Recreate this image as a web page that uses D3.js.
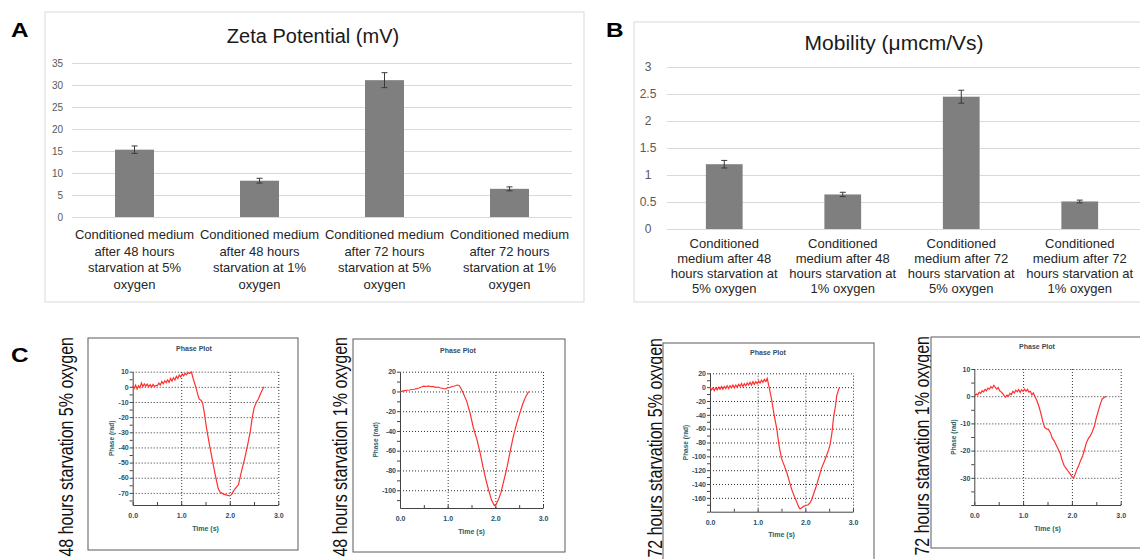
<!DOCTYPE html>
<html>
<head>
<meta charset="utf-8">
<script src="https://cdn.jsdelivr.net/npm/d3@7"></script>
<style>
  body { margin: 0; background: #fff; }
  svg { display: block; font-family: "Liberation Sans", Arial, sans-serif; }
</style>
</head>
<body>
<div id="figure"></div>
<script>

// Panel A - zeta potential
var zetaCategories = [
  ["Conditioned medium", "after 48 hours", "starvation at 5%", "oxygen"],
  ["Conditioned medium", "after 48 hours", "starvation at 1%", "oxygen"],
  ["Conditioned medium", "after 72 hours", "starvation at 5%", "oxygen"],
  ["Conditioned medium", "after 72 hours", "starvation at 1%", "oxygen"]
];
var zetaValues = [15.3, 8.25, 31.1, 6.4];
var zetaErrors = [0.85, 0.55, 1.7, 0.45];
var zetaTicks = [0, 5, 10, 15, 20, 25, 30, 35];

// Panel B - mobility
var mobilityCategories = [
  ["Conditioned", "medium after 48", "hours starvation at", "5% oxygen"],
  ["Conditioned", "medium after 48", "hours starvation at", "1% oxygen"],
  ["Conditioned", "medium after 72", "hours starvation at", "5% oxygen"],
  ["Conditioned", "medium after 72", "hours starvation at", "1% oxygen"]
];
var mobilityValues = [1.2, 0.64, 2.45, 0.51];
var mobilityErrors = [0.07, 0.04, 0.12, 0.025];
var mobilityTicks = [0, 0.5, 1, 1.5, 2, 2.5, 3];

// Panel C - phase plots, [time (s), phase (rad)]
var phase48h5 = [[0.00, 0.5], [0.03, -1.0], [0.06, 1.2], [0.09, -1.5], [0.12, 0.8], [0.15, -0.5], [0.18, 2.5],
  [0.21, 0.2], [0.24, 2.0], [0.27, 0.5], [0.30, 1.8], [0.33, 0.0], [0.36, 1.5], [0.39, -0.2], [0.42, 1.6],
  [0.45, 0.3], [0.48, 1.0], [0.51, 0.8], [0.54, 2.5], [0.57, 1.2], [0.60, 3.5], [0.63, 2.0], [0.66, 4.0],
  [0.69, 2.8], [0.72, 4.5], [0.75, 3.0], [0.78, 5.5], [0.81, 3.8], [0.84, 6.0], [0.87, 4.5], [0.90, 7.0],
  [0.93, 5.5], [0.96, 7.8], [0.99, 6.5], [1.02, 8.5], [1.05, 7.2], [1.08, 9.0], [1.11, 8.0], [1.14, 9.5],
  [1.17, 8.8], [1.21, 9.8], [1.25, 5], [1.30, 0], [1.34, -5], [1.37, -8], [1.41, -9], [1.44, -10.5],
  [1.48, -18], [1.52, -27], [1.58, -38], [1.64, -48], [1.70, -58], [1.76, -67], [1.80, -69.5], [1.87, -70.8],
  [1.94, -71.5], [2.00, -72], [2.04, -71], [2.08, -68.5], [2.13, -66.5], [2.18, -64.5], [2.24, -56],
  [2.31, -47], [2.37, -38], [2.42, -30], [2.46, -21], [2.50, -14], [2.55, -10], [2.59, -8], [2.64, -4], [2.70, 0]];

var phase48h1 = [[0.00, -0.5], [0.05, 0.3], [0.10, 0.8], [0.15, 1.2], [0.20, 1.5], [0.25, 2.0], [0.30, 2.2],
  [0.35, 2.8], [0.40, 3.5], [0.45, 4.5], [0.50, 5.3], [0.55, 5.0], [0.60, 5.6], [0.65, 4.8], [0.70, 4.9],
  [0.75, 4.2], [0.80, 4.5], [0.85, 3.5], [0.90, 3.0], [0.95, 2.5], [1.00, 3.8], [1.05, 4.2], [1.10, 5.0],
  [1.15, 5.5], [1.20, 6.5], [1.24, 6.0], [1.28, 3], [1.33, -2], [1.40, -10], [1.47, -22], [1.54, -37],
  [1.61, -48], [1.68, -62], [1.74, -76], [1.80, -89], [1.86, -100], [1.92, -110], [1.98, -115.5],
  [2.02, -114], [2.07, -109], [2.12, -102], [2.18, -90], [2.24, -78], [2.31, -61], [2.38, -45],
  [2.45, -32], [2.52, -21], [2.58, -12], [2.64, -5], [2.70, 0]];

var phase72h5 = [[0.00, 0], [0.03, -4], [0.06, -1], [0.09, -5], [0.12, -1], [0.15, -4], [0.18, 0], [0.21, -3],
  [0.24, 1], [0.27, -3], [0.30, 1], [0.33, -2], [0.36, 2], [0.39, -2], [0.42, 2], [0.45, -1], [0.48, 3],
  [0.51, -1], [0.54, 3], [0.57, 0], [0.60, 4], [0.63, 1], [0.66, 5], [0.69, 1], [0.72, 5], [0.75, 2],
  [0.78, 6], [0.81, 3], [0.84, 7], [0.87, 3], [0.90, 8], [0.93, 4], [0.96, 8], [0.99, 5], [1.02, 9],
  [1.05, 6], [1.08, 10], [1.11, 7], [1.14, 11], [1.17, 8], [1.20, 12.5], [1.24, 0], [1.29, -17],
  [1.34, -38], [1.40, -60], [1.45, -85], [1.50, -103], [1.55, -112], [1.61, -123], [1.66, -135],
  [1.71, -147], [1.77, -158], [1.82, -166], [1.86, -173], [1.89, -176], [1.93, -174], [1.97, -172],
  [2.02, -171], [2.06, -170], [2.10, -167], [2.13, -163], [2.18, -153], [2.24, -141], [2.29, -129],
  [2.34, -117], [2.40, -107], [2.45, -98], [2.49, -90], [2.52, -83], [2.56, -65], [2.59, -45],
  [2.63, -28], [2.66, -12], [2.71, -1]];

var phase72h1 = [[0.00, 0.0], [0.04, 0.8], [0.07, 0.5], [0.10, 1.5], [0.13, 1.0], [0.16, 2.0], [0.19, 1.6],
  [0.22, 2.5], [0.25, 2.0], [0.28, 3.0], [0.31, 2.6], [0.34, 3.5], [0.37, 3.0], [0.40, 4.0], [0.43, 3.2],
  [0.46, 2.6], [0.49, 3.2], [0.52, 2.0], [0.55, 1.6], [0.58, 1.0], [0.61, 0.2], [0.64, -0.3], [0.67, 0.4],
  [0.70, 0.0], [0.73, 1.0], [0.76, 0.6], [0.79, 1.8], [0.82, 1.2], [0.85, 2.2], [0.88, 1.6], [0.91, 2.5],
  [0.94, 1.4], [0.97, 2.4], [1.00, 1.8], [1.03, 2.6], [1.06, 1.8], [1.09, 2.5], [1.12, 1.5], [1.15, 1.8],
  [1.18, 0.5], [1.21, 1.2], [1.24, 0.0], [1.28, -1.5], [1.32, -3.5], [1.36, -6], [1.40, -9], [1.44, -11.5],
  [1.48, -12.0], [1.52, -12.2], [1.56, -13.5], [1.60, -15.5], [1.64, -16.5], [1.68, -18], [1.72, -19.5],
  [1.76, -21], [1.80, -23.5], [1.84, -25.5], [1.88, -26.5], [1.92, -27.5], [1.96, -28.5], [2.00, -29.5],
  [2.03, -30.2], [2.06, -29], [2.10, -27], [2.14, -25.5], [2.18, -23.5], [2.22, -22], [2.26, -19.5],
  [2.30, -17], [2.34, -15.5], [2.38, -14.5], [2.42, -13], [2.46, -11], [2.50, -8], [2.54, -5.5],
  [2.58, -3], [2.62, -1.0], [2.66, -0.5], [2.70, 0]];

var timeTicks = [0, 0.5, 1, 1.5, 2, 2.5, 3];
var timeLabels = [0, 1, 2, 3];

var svg = d3.select("#figure")
  .append("svg")
  .attr("width", 1140)
  .attr("height", 559);

// big bold panel letters
function panelLetter(x, y, letter) {
  svg.append("text")
    .attr("transform", "translate(" + x + "," + y + ") scale(1.25,1)")
    .style("font-size", "19.5px")
    .style("font-weight", "bold")
    .attr("fill", "#000")
    .text(letter);
}

function barPanel(p) {
  var g = svg.append("g");

  // light frame around the chart
  g.append("rect")
    .attr("x", p.box[0]).attr("y", p.box[1])
    .attr("width", p.box[2] - p.box[0])
    .attr("height", p.box[3] - p.box[1])
    .attr("fill", "none")
    .attr("stroke", "#d9d9d9");

  // Add title
  g.append("text")
    .attr("x", p.title[0])
    .attr("y", p.title[1])
    .attr("text-anchor", "middle")
    .style("font-size", p.titleSize + "px")
    .attr("fill", "#1a1a1a")
    .text(p.titleText);

  var x = d3.scaleBand()
    .domain(d3.range(p.values.length))
    .range(p.xRange)
    .paddingInner(p.pad)
    .paddingOuter(p.pad / 2);

  var y = d3.scaleLinear()
    .domain(p.yDomain)
    .range(p.yRange);

  // Y axis with gridlines
  var yAxis = g.append("g")
    .attr("transform", "translate(" + p.gridX[0] + ",0)")
    .call(d3.axisLeft(y)
      .tickValues(p.ticks)
      .tickSize(-(p.gridX[1] - p.gridX[0]))
      .tickPadding(p.tickPad)
      .tickFormat(function (d) { return String(d); }));
  yAxis.select(".domain").remove();
  yAxis.selectAll(".tick line").attr("stroke", "#d9d9d9");
  yAxis.selectAll(".tick text")
    .attr("fill", "#595959")
    .style("font-size", p.tickSize + "px")
    .style("font-family", "Liberation Sans, Arial, sans-serif")
    .attr("text-anchor", p.tickAnchor);

  // bars
  g.selectAll(".bar")
    .data(p.values)
    .enter()
    .append("rect")
    .attr("x", function (d, i) { return x(i); })
    .attr("y", function (d) { return y(d); })
    .attr("width", x.bandwidth())
    .attr("height", function (d) { return y(0) - y(d); })
    .attr("fill", "#7f7f7f");

  // error bars
  var err = g.selectAll(".err")
    .data(p.values)
    .enter()
    .append("g")
    .attr("stroke", "#3a3a3a")
    .attr("stroke-width", 1);
  err.append("line")
    .attr("x1", function (d, i) { return x(i) + x.bandwidth() / 2; })
    .attr("x2", function (d, i) { return x(i) + x.bandwidth() / 2; })
    .attr("y1", function (d, i) { return y(d + p.errors[i]); })
    .attr("y2", function (d, i) { return y(d - p.errors[i]); });
  [1, -1].forEach(function (s) {
    err.append("line")
      .attr("x1", function (d, i) { return x(i) + x.bandwidth() / 2 - 3; })
      .attr("x2", function (d, i) { return x(i) + x.bandwidth() / 2 + 3; })
      .attr("y1", function (d, i) { return y(d + s * p.errors[i]); })
      .attr("y2", function (d, i) { return y(d + s * p.errors[i]); });
  });

  // category labels, several lines each
  var labels = g.selectAll(".cat")
    .data(p.categories)
    .enter()
    .append("text")
    .attr("text-anchor", "middle")
    .style("font-size", p.labelSize + "px")
    .attr("fill", "#262626");
  labels.selectAll("tspan")
    .data(function (d, i) { return d.map(function (t) { return { t: t, i: i }; }); })
    .enter()
    .append("tspan")
    .attr("x", function (d) { return x(d.i) + x.bandwidth() / 2; })
    .attr("y", function (d, j) { return p.labelY + j * p.labelStep; })
    .text(function (d) { return d.t; });
}

function phasePlot(p) {
  var g = svg.append("g");

  // rotated condition label beside the plot
  g.append("text")
    .attr("transform", "translate(" + p.label[0] + "," + p.label[1] + ") rotate(-90) scale(1,1.3)")
    .attr("text-anchor", "end")
    .style("font-size", "16px")
    .attr("fill", "#111")
    .text(p.labelText);

  // frame
  g.append("rect")
    .attr("x", p.box[0]).attr("y", p.box[1])
    .attr("width", p.box[2] - p.box[0])
    .attr("height", p.box[3] - p.box[1])
    .attr("fill", "#fff")
    .attr("stroke", "#5a5a5a");

  g.append("text")
    .attr("x", p.title[0])
    .attr("y", p.title[1])
    .attr("text-anchor", "middle")
    .style("font-size", "7px")
    .style("font-weight", "bold")
    .attr("fill", "#3a4a5a")
    .text("Phase Plot");

  var x = d3.scaleLinear().domain([0, 3]).range(p.xRange);
  var y = d3.scaleLinear().domain(p.yDomain).range(p.yRange);
  var w = p.xRange[1] - p.xRange[0];
  var h = p.yRange[0] - p.yRange[1];

  // labelled ticks stop above the bottom axis
  var major = d3.range(Math.ceil(p.yDomain[0] / p.step) * p.step, p.yDomain[1] + 0.001, p.step)
    .filter(function (d) { return d > p.yDomain[0]; });
  var minor = d3.range(Math.ceil(p.yDomain[0] / p.minor) * p.minor, p.yDomain[1] + 0.001, p.minor);

  // dotted grid
  g.append("g")
    .attr("transform", "translate(" + p.xRange[0] + ",0)")
    .call(d3.axisLeft(y).tickValues(major).tickSize(-w).tickFormat(""))
    .call(function (s) { s.select(".domain").remove(); })
    .selectAll(".tick line")
    .attr("stroke", "#333")
    .attr("stroke-dasharray", "1,2");
  g.append("g")
    .attr("transform", "translate(0," + p.yRange[0] + ")")
    .call(d3.axisBottom(x).tickValues([1, 2, 3]).tickSize(-h).tickFormat(""))
    .call(function (s) { s.select(".domain").remove(); })
    .selectAll(".tick line")
    .attr("stroke", "#333")
    .attr("stroke-dasharray", "1,2");

  // Add Y axis
  var yAxis = g.append("g")
    .attr("transform", "translate(" + p.xRange[0] + ",0)")
    .call(d3.axisLeft(y)
      .tickValues(minor)
      .tickSize(3)
      .tickSizeOuter(0)
      .tickPadding(1)
      .tickFormat(function (d) { return major.indexOf(d) >= 0 ? String(d) : ""; }));

  // Add X axis
  var xAxis = g.append("g")
    .attr("transform", "translate(0," + p.yRange[0] + ")")
    .call(d3.axisBottom(x)
      .tickValues(timeTicks)
      .tickSize(-3)
      .tickSizeOuter(0)
      .tickPadding(8)
      .tickFormat(function (d) { return timeLabels.indexOf(d) >= 0 ? d3.format(".1f")(d) : ""; }));

  [yAxis, xAxis].forEach(function (a) {
    a.select(".domain").attr("stroke", "#444");
    a.selectAll(".tick line").attr("stroke", "#444");
    a.selectAll(".tick text")
      .attr("fill", "#24506b")
      .style("font-size", "7px")
      .style("font-weight", "bold")
      .style("font-family", "Liberation Sans, Arial, sans-serif");
  });

  g.append("text")
    .attr("transform", "translate(" + (p.xRange[0] - p.ylabOff) + "," + (p.yRange[1] + h / 2) + ") rotate(-90)")
    .attr("text-anchor", "middle")
    .style("font-size", "6.5px")
    .style("font-weight", "bold")
    .attr("fill", "#2b5d6b")
    .text("Phase (rad)");

  g.append("text")
    .attr("x", p.xRange[0] + w / 2)
    .attr("y", p.yRange[0] + 25.5)
    .attr("text-anchor", "middle")
    .style("font-size", "7px")
    .style("font-weight", "bold")
    .attr("fill", "#2b5d6b")
    .text("Time (s)");

  var line = d3.line()
    .x(function (d) { return x(d[0]); })
    .y(function (d) { return y(d[1]); });

  g.append("path")
    .datum(p.data)
    .attr("d", line)
    .attr("fill", "none")
    .attr("stroke", "#ff3030")
    .attr("stroke-width", 1.2);
}

panelLetter(11, 37, "A");
panelLetter(606, 37, "B");
panelLetter(11, 362, "C");

barPanel({
  box: [45, 12, 584, 302], title: [313, 43], titleSize: 20, titleText: "Zeta Potential (mV)",
  values: zetaValues, errors: zetaErrors, categories: zetaCategories, ticks: zetaTicks,
  xRange: [72, 572], pad: 0.688, yDomain: [0, 35], yRange: [217, 63], gridX: [72, 572],
  tickPad: 9, tickSize: 10, tickAnchor: "end", labelSize: 13, labelY: 239, labelStep: 16.6
});

barPanel({
  box: [634, 22, 1146, 302], title: [894, 50], titleSize: 21, titleText: "Mobility (\u03bcmcm/Vs)",
  values: mobilityValues, errors: mobilityErrors, categories: mobilityCategories, ticks: mobilityTicks,
  xRange: [665, 1139], pad: 0.69, yDomain: [0, 3], yRange: [229, 67], gridX: [667, 1140],
  tickPad: 19, tickSize: 12, tickAnchor: "middle", labelSize: 13, labelY: 248, labelStep: 15
});

phasePlot({
  labelText: "48 hours starvation 5% oxygen", label: [73, 337],
  box: [88, 338, 298, 550], title: [194, 351],
  xRange: [132.7, 278.3], yRange: [505, 371.7], yDomain: [-78, 10], step: 10, minor: 5,
  ylabOff: 19, data: phase48h5
});

phasePlot({
  labelText: "48 hours starvation 1% oxygen", label: [347, 337],
  box: [353, 339, 565, 552], title: [458, 353],
  xRange: [400, 543], yRange: [508, 371.7], yDomain: [-118, 20], step: 20, minor: 10,
  ylabOff: 22, data: phase48h1
});

phasePlot({
  labelText: "72 hours starvation 5% oxygen", label: [661.5, 338],
  box: [663, 343, 874, 563], title: [768, 355],
  xRange: [710, 853], yRange: [511.7, 373.3], yDomain: [-180, 20], step: 20, minor: 10,
  ylabOff: 22, data: phase72h5
});

phasePlot({
  labelText: "72 hours starvation 1% oxygen", label: [929, 336],
  box: [931, 337, 1146, 548], title: [1037, 349],
  xRange: [974.3, 1120.7], yRange: [505, 369], yDomain: [-40, 10], step: 10, minor: 5,
  ylabOff: 18, data: phase72h1
});

</script>
</body>
</html>
